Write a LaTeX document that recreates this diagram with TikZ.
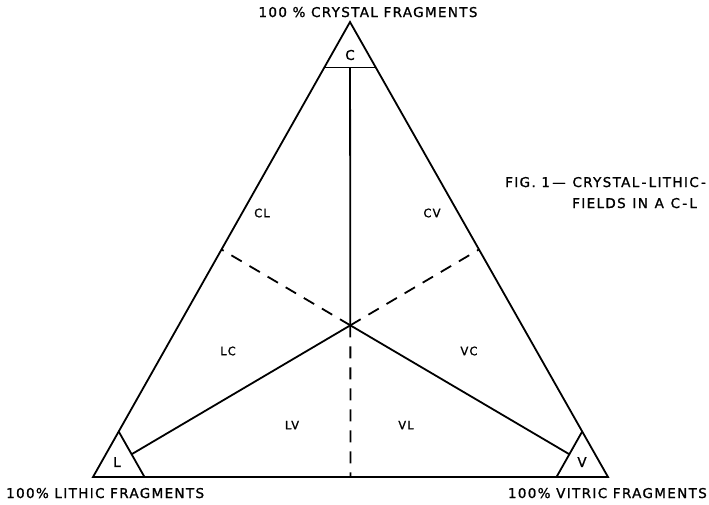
\documentclass[tikz,border=0pt]{standalone}
\usepackage{fontspec}
\setmainfont{DejaVu Sans}[LetterSpace=10,FakeBold=1.2]
\usetikzlibrary{calc}
\begin{document}
\begin{tikzpicture}[x=1pt,y=-1pt,
    edge/.style={line width=1.8pt},
    split/.style={line width=1.8pt,dash pattern=on 12pt off 9pt},
    field/.style={font=\fontsize{11.5}{13}\selectfont},
    pole/.style={font=\fontsize{13.5}{15}\selectfont}]
  \useasboundingbox (0,0) rectangle (709,504);
  % corners of the diagram
  \coordinate (C) at (350,22);
  \coordinate (L) at (93,477);
  \coordinate (V) at (608,477);
  \coordinate (O) at (barycentric cs:C=1,L=1,V=1);
  \draw[edge] (C) -- (L) -- (V) -- cycle;
  % small end-member triangles
  \draw[edge] ($(C)!0.1!(L)$) coordinate (cl) -- ($(C)!0.1!(V)$) coordinate (cv);
  \draw[edge] ($(L)!0.1!(C)$) coordinate (lc) -- ($(L)!0.1!(V)$) coordinate (lv);
  \draw[edge] ($(V)!0.1!(C)$) coordinate (vc) -- ($(V)!0.1!(L)$) coordinate (vl);
  % field boundaries
  \draw[edge] ($(cl)!0.5!(cv)$) -- (O);
  \draw[edge] (O) -- ($(lc)!0.5!(lv)$);
  \draw[edge] (O) -- ($(vc)!0.5!(vl)$);
  \draw[split] (O) -- ($(C)!0.5!(L)$);
  \draw[split] (O) -- ($(C)!0.5!(V)$);
  \draw[split] (O) -- ($(L)!0.5!(V)$);
  % corner letters
  \node[pole] (cTag) at (350,55) {C};
  \node[pole] (lTag) at (117,462) {L};
  \node[pole] (vTag) at (582,462) {V};
  % field names
  \node[field] (clTag) at (262,213) {CL};
  \node[field] (cvTag) at (432,213) {CV};
  \node[field] (lcTag) at (228,351) {LC};
  \node[field] (vcTag) at (469,351) {VC};
  \node[field] (lvTag) at (292,425) {LV};
  \node[field] (vlTag) at (406,425) {VL};
  % end-member captions
  \node[pole,anchor=base] (cText) at (368,17) {100 \% CRYSTAL FRAGMENTS};
  \node[pole,anchor=base west,inner sep=0pt] (lText) at (6,498) {100\% LITHIC FRAGMENTS};
  \node[pole,anchor=base east,inner sep=0pt] (vText) at (707,498) {100\% VITRIC FRAGMENTS};
  % figure caption
  \node[pole,anchor=base west,inner sep=0pt] (figA) at (505,187) {FIG. 1\,---\enspace CRYSTAL\,-\,LITHIC\,-};
  \node[pole,anchor=base west,inner sep=0pt] (figB) at (572,208) {FIELDS\enspace IN\enspace A\enspace C\,-\,L};
\end{tikzpicture}
\end{document}
